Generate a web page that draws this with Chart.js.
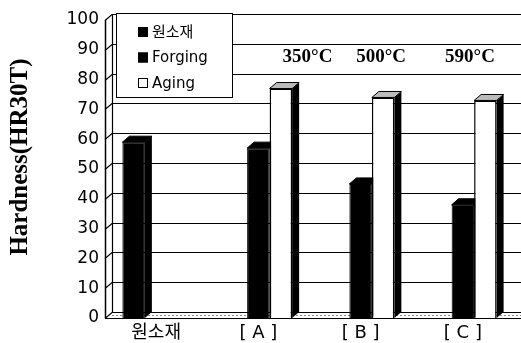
<!DOCTYPE html>
<html>
<head>
<meta charset="utf-8">
<script src="https://cdn.jsdelivr.net/npm/chart.js@4"></script>
<style>
  html,body{margin:0;padding:0;background:#fff}
  #c{display:block}
</style>
</head>
<body>
<canvas id="c" width="521" height="343"></canvas>
<script>
// hardness by condition
const categories = ['원소재', '[ A ]', '[ B ]', '[ C ]'];
const rawValues = [59, null, null, null];
const forgingValues = [null, 57, 45, 38];
const agingValues = [null, 77, 74, 73];
const seriesNames = ['원소재', 'Forging', 'Aging'];
const tempLabels = ['350°C', '500°C', '590°C'];
const tempAt = [1.48, 2.2, 3.07]; // category index where each temperature sits
const yTicks = [0, 10, 20, 30, 40, 50, 60, 70, 80, 90, 100];

const DX = 7, DY = 6; // fake 3D depth
const sans = 'DejaVu Sans, "Noto Sans CJK KR", sans-serif';
const serif = '"Liberation Serif", "Times New Roman", serif';

// back wall grid, left wall, floor
const wallPlugin = {
  id: 'wall',
  beforeDatasetsDraw(chart){
    const {ctx, chartArea:a, scales:{y}} = chart;
    ctx.save();
    ctx.strokeStyle = '#000'; ctx.lineWidth = 1.2;
    yTicks.forEach(v=>{
      const py = Math.round(y.getPixelForValue(v)) + 0.5;
      ctx.beginPath();
      ctx.moveTo(a.left, py); ctx.lineTo(a.left+DX, py-DY); ctx.lineTo(chart.width, py-DY);
      ctx.stroke();
    });
    // left wall back edge
    ctx.beginPath();
    ctx.moveTo(a.left+DX+0.5, a.top-DY); ctx.lineTo(a.left+DX+0.5, a.bottom-DY);
    ctx.stroke();
    // floor
    ctx.beginPath();
    ctx.moveTo(a.left, a.bottom+0.5); ctx.lineTo(chart.width, a.bottom+0.5);
    ctx.stroke();
    ctx.setLineDash([2,2]); ctx.strokeStyle = '#888'; ctx.lineWidth = 1;
    ctx.beginPath();
    ctx.moveTo(a.left+DX, a.bottom-2.5); ctx.lineTo(chart.width, a.bottom-2.5);
    ctx.stroke();
    ctx.setLineDash([]);
    // front axis line
    ctx.strokeStyle = '#000'; ctx.lineWidth = 1.5;
    ctx.beginPath();
    ctx.moveTo(a.left+0.5, a.top); ctx.lineTo(a.left+0.5, a.bottom);
    ctx.stroke();

    // bar depth: side and top faces, drawn behind the fronts
    chart.data.datasets.forEach((ds, di)=>{
      chart.getDatasetMeta(di).data.forEach((bar, i)=>{
        if(ds.data[i] == null) return;
        const {x, y:top, base, width} = bar.getProps(['x','y','base','width'], true);
        const l = x - width/2, r = x + width/2;
        ctx.fillStyle = '#000';
        ctx.beginPath();
        ctx.moveTo(r, top); ctx.lineTo(r+DX, top-DY); ctx.lineTo(r+DX, base-DY); ctx.lineTo(r, base);
        ctx.closePath(); ctx.fill();
        ctx.beginPath();
        ctx.moveTo(l, top); ctx.lineTo(l+DX, top-DY); ctx.lineTo(r+DX, top-DY); ctx.lineTo(r, top);
        ctx.closePath();
        ctx.fillStyle = ds.backgroundColor === '#fff' ? '#bbb' : '#000';
        ctx.fill(); ctx.lineWidth = 1; ctx.stroke();
      });
    });
    ctx.restore();
  },
  afterDraw(chart){
    const {ctx, chartArea:a, scales:{x, y}} = chart;
    ctx.save();
    // legend box
    const bx = a.left+11, by = a.top-7, bw = 116, bh = 84;
    ctx.fillStyle = '#fff'; ctx.fillRect(bx, by, bw, bh);
    ctx.strokeStyle = '#000'; ctx.lineWidth = 1;
    ctx.strokeRect(bx+0.5, by+0.5, bw, bh);
    ctx.font = '15px ' + sans; ctx.textBaseline = 'middle'; ctx.textAlign = 'left';
    chart.data.datasets.forEach((ds, i)=>{
      const ry = by + 19 + i*25.5;
      ctx.fillStyle = ds.backgroundColor;
      ctx.fillRect(bx+22, ry-5, 10, 10);
      ctx.strokeStyle = '#000'; ctx.strokeRect(bx+22.5, ry-4.5, 9, 9);
      ctx.fillStyle = '#000';
      ctx.fillText(ds.label, bx+36, ry+1);
    });
    // temperature notes
    ctx.font = 'bold 19px ' + serif; ctx.textAlign = 'center';
    tempLabels.forEach((t, i)=>{
      ctx.fillText(t, x.getPixelForValue(tempAt[i]), y.getPixelForValue(87.5));
    });
    // y title
    ctx.translate(21, 157); ctx.rotate(-Math.PI/2);
    ctx.font = 'bold 25px ' + serif;
    ctx.fillText('Hardness(HR30T)', 0, 0);
    ctx.restore();
  }
};

new Chart(document.getElementById('c'), {
  type: 'bar',
  data: {
    labels: categories,
    datasets: [
      {label: seriesNames[0], data: rawValues, backgroundColor: '#000', borderColor: '#000', borderWidth: 1},
      {label: seriesNames[1], data: forgingValues, backgroundColor: '#000', borderColor: '#000', borderWidth: 1},
      {label: seriesNames[2], data: agingValues, backgroundColor: '#fff', borderColor: '#000', borderWidth: 1.5}
    ]
  },
  options: {
    responsive: false,
    animation: false,
    layout: {padding: {top: 20, right: 7, left: 0, bottom: 0}},
    categoryPercentage: 0.66,
    barPercentage: 1,
    plugins: {legend: {display: false}, tooltip: {enabled: false}},
    scales: {
      x: {
        grid: {display: false, drawTicks: false},
        border: {display: false},
        ticks: {color: '#000', font: {size: 18, family: sans}, padding: 5},
        afterFit: s => { s.height = 25; }
      },
      y: {
        min: 0, max: 100,
        afterBuildTicks: s => { s.ticks = yTicks.map(v => ({value: v})); },
        grid: {display: false, drawTicks: false},
        border: {display: false},
        ticks: {color: '#000', font: {size: 17, family: sans}, padding: 6},
        afterFit: s => { s.width = 105; }
      }
    }
  },
  plugins: [wallPlugin]
});
</script>
</body>
</html>
